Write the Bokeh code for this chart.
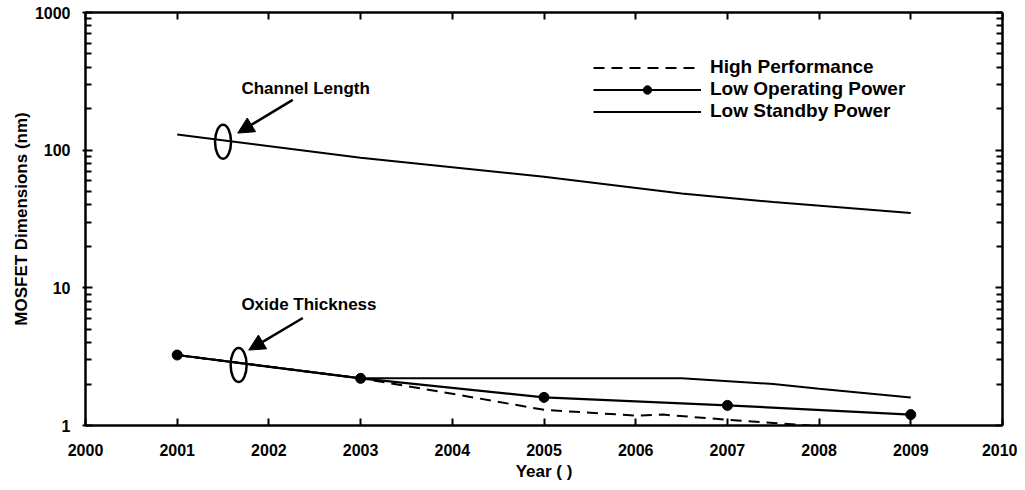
from bokeh.plotting import figure
from bokeh.models import (LinearAxis, LogAxis, FixedTicker, PrintfTickFormatter, Legend,
                          LegendItem, Arrow, NormalHead, Range1d)
from bokeh.core.properties import value
from bokeh.embed import file_html
from bokeh.resources import INLINE

# ---- data ----
x_ticks = [2000, 2001, 2002, 2003, 2004, 2005, 2006, 2007, 2008, 2009, 2010]
y_ticks = [1, 10, 100, 1000]
y_minor = [m * d for d in (1, 10, 100) for m in range(2, 10)]

channel_years = [2001, 2003, 2005, 2006.5, 2007.5, 2009]
channel_length = [130, 88, 64, 48.5, 42, 35]

hp_years = [2001, 2003, 2004, 2005, 2006, 2006.3, 2007, 2007.9]
hp_tox = [3.25, 2.2, 1.7, 1.3, 1.18, 1.2, 1.1, 1.0]

lop_years = [2001, 2003, 2005, 2007, 2009]
lop_tox = [3.25, 2.2, 1.6, 1.4, 1.2]

lsp_years = [2001, 2003, 2004.5, 2006.5, 2007.5, 2008, 2009]
lsp_tox = [3.25, 2.2, 2.2, 2.2, 2.0, 1.85, 1.6]

# annotations (data coordinates)
label_x = [2001.70, 2001.70]
label_y = [282, 7.6]
label_text = ["Channel Length", "Oxide Thickness"]
ellipse_x = [2001.5, 2001.67]
ellipse_y = [115, 2.75]
arrows = [((2002.26, 232), (2001.66, 133)), ((2002.37, 6.04), (2001.78, 3.53))]

FONT = "Liberation Sans"

p = figure(width=1017, height=488, x_range=Range1d(2000, 2010), y_range=Range1d(1, 1000),
           y_axis_type="log", output_backend="svg", toolbar_location=None,
           min_border_left=85, min_border_right=15, min_border_top=12, min_border_bottom=63)
p.outline_line_color = None
p.xgrid.grid_line_color = None
p.ygrid.grid_line_color = None
p.background_fill_color = "white"
p.border_fill_color = "white"

def style_axis(ax):
    ax.axis_line_width = 2.5
    ax.axis_line_color = "black"
    ax.major_tick_line_width = 2
    ax.minor_tick_line_width = 2
    ax.major_tick_line_color = "black"
    ax.minor_tick_line_color = "black"
    ax.major_label_text_font = FONT
    ax.major_label_text_font_style = "bold"
    ax.major_label_text_font_size = "16px"
    ax.major_label_text_color = "black"
    ax.axis_label_text_font = FONT
    ax.axis_label_text_font_style = "bold"
    ax.axis_label_text_font_size = "17px"
    ax.axis_label_text_color = "black"

xax = p.xaxis[0]
style_axis(xax)
xax.ticker = FixedTicker(ticks=x_ticks)
xax.formatter = PrintfTickFormatter(format="%d")
xax.major_tick_in = 7
xax.major_tick_out = 0
xax.minor_tick_in = 0
xax.minor_tick_out = 0
xax.major_label_standoff = 18
xax.axis_label = "Year ( )"
xax.axis_label_standoff = 3

yax = p.yaxis[0]
style_axis(yax)
yax.ticker = FixedTicker(ticks=y_ticks, minor_ticks=y_minor)
yax.formatter = PrintfTickFormatter(format="%d")
yax.major_tick_in = 7
yax.major_tick_out = 3
yax.minor_tick_in = 6
yax.minor_tick_out = 0
yax.major_label_standoff = 12
yax.axis_label = "MOSFET Dimensions (nm)"
yax.axis_label_standoff = 1

top = LinearAxis(ticker=FixedTicker(ticks=x_ticks))
style_axis(top)
top.major_tick_in = 7
top.major_tick_out = 0
top.minor_tick_in = 0
top.minor_tick_out = 0
top.major_label_text_font_size = "0px"
top.major_label_text_color = None
top.major_label_standoff = 0
p.add_layout(top, "above")

right = LogAxis(ticker=FixedTicker(ticks=y_ticks, minor_ticks=y_minor))
style_axis(right)
right.major_tick_in = 7
right.major_tick_out = 0
right.minor_tick_in = 6
right.minor_tick_out = 0
right.major_label_text_font_size = "0px"
right.major_label_text_color = None
right.major_label_standoff = 0
p.add_layout(right, "right")

# ---- series ----
p.line(channel_years, channel_length, line_color="black", line_width=2)

hp_r = p.line(hp_years, hp_tox, line_color="black", line_width=2, line_dash="11 7")
lsp_r = p.line(lsp_years, lsp_tox, line_color="black", line_width=2)
lop_l = p.line(lop_years, lop_tox, line_color="black", line_width=2.2)
lop_s = p.scatter(lop_years, lop_tox, size=10, marker="circle", fill_color="black",
                  line_color="black")

# ---- annotations ----
p.ellipse(x=ellipse_x, y=ellipse_y, width=16, height=34, width_units="screen",
          height_units="screen", fill_color=None, line_color="black", line_width=2.5)
for (xs, ys), (xe, ye) in arrows:
    p.add_layout(Arrow(end=NormalHead(size=16, fill_color="black", line_color="black"),
                       x_start=xs, y_start=ys, x_end=xe, y_end=ye,
                       line_color="black", line_width=2.5))
p.text(x=label_x, y=label_y, text=label_text, text_font=value(FONT), text_font_style="bold",
       text_font_size="17px", text_baseline="middle", text_align="left", text_color="black")

legend = Legend(items=[LegendItem(label="High Performance", renderers=[hp_r]),
                       LegendItem(label="Low Operating Power", renderers=[lop_l, lop_s]),
                       LegendItem(label="Low Standby Power", renderers=[lsp_r])],
                location=(508, 303), glyph_width=108, glyph_height=21, label_height=21,
                spacing=0, padding=0, margin=0, label_standoff=9,
                border_line_color=None, background_fill_alpha=0,
                label_text_font=FONT, label_text_font_style="bold",
                label_text_font_size="19px", label_text_color="black")
p.add_layout(legend)

open("out.html", "w").write(file_html(p, INLINE))
